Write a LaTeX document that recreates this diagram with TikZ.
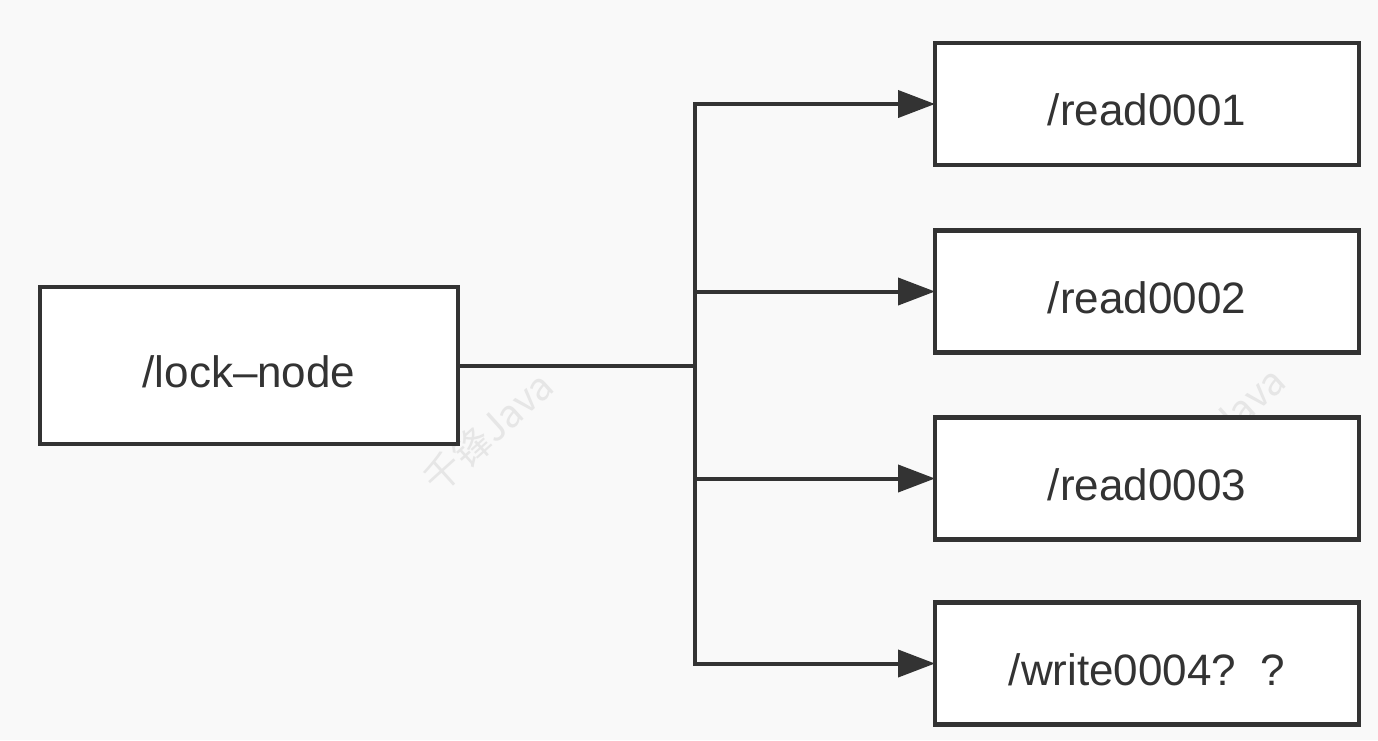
\documentclass[tikz,border=0pt]{standalone}
\usepackage{fontspec}
\setmainfont{Liberation Sans}
\newfontfamily\cjk{Noto Sans CJK SC}
\usetikzlibrary{arrows.meta}
\definecolor{bg}{HTML}{F9F9F9}
\definecolor{ink}{HTML}{333333}
\definecolor{wm}{HTML}{E6E6E6}
\newcommand{\lbl}[1]{\raisebox{-6pt}[\height][\depth]{#1}}
\begin{document}
\begin{tikzpicture}[x=1pt,y=-1pt,
  box/.style={draw=ink, fill=white, line width=4.5pt, outer sep=0pt, inner sep=0pt,
    text=ink, font=\fontsize{44}{50}\selectfont, minimum height=122pt, minimum width=424pt},
  conn/.style={draw=ink, line width=4pt},
  arr/.style={conn, -{Triangle[length=37pt,width=27pt]}},
  wmark/.style={text=wm, font=\cjk\fontsize{38}{44}\selectfont, rotate=42}]
\fill[bg] (0,0) rectangle (1378,740);
\useasboundingbox (0,0) rectangle (1378,740);
% watermarks
\node[wmark] (wm1) at (488,432) {千锋Java};
\node[wmark] (wm2) at (1220,427) {千锋Java};
% boxes
\node[box, minimum width=418pt, minimum height=157pt] (lock) at (249,365.5) {\lbl{/lock\textendash node}};
\node[box] (r1) at (1147,104) {\lbl{/read0001}};
\node[box] (r2) at (1147,291.5) {\lbl{/read0002}};
\node[box] (r3) at (1147,478.5) {\lbl{/read0003}};
\node[box] (r4) at (1147,663.5) {\lbl{/write0004?\ \ ?}};
\coordinate (t) at (695,365.5);
% connectors
\draw[conn] (lock.east) -- (t);
\draw[arr] (t) |- (r1.west);
\draw[arr] (t) |- (r4.west);
\draw[arr] (r2.west -| t) -- (r2.west);
\draw[arr] (r3.west -| t) -- (r3.west);
\end{tikzpicture}
\end{document}
